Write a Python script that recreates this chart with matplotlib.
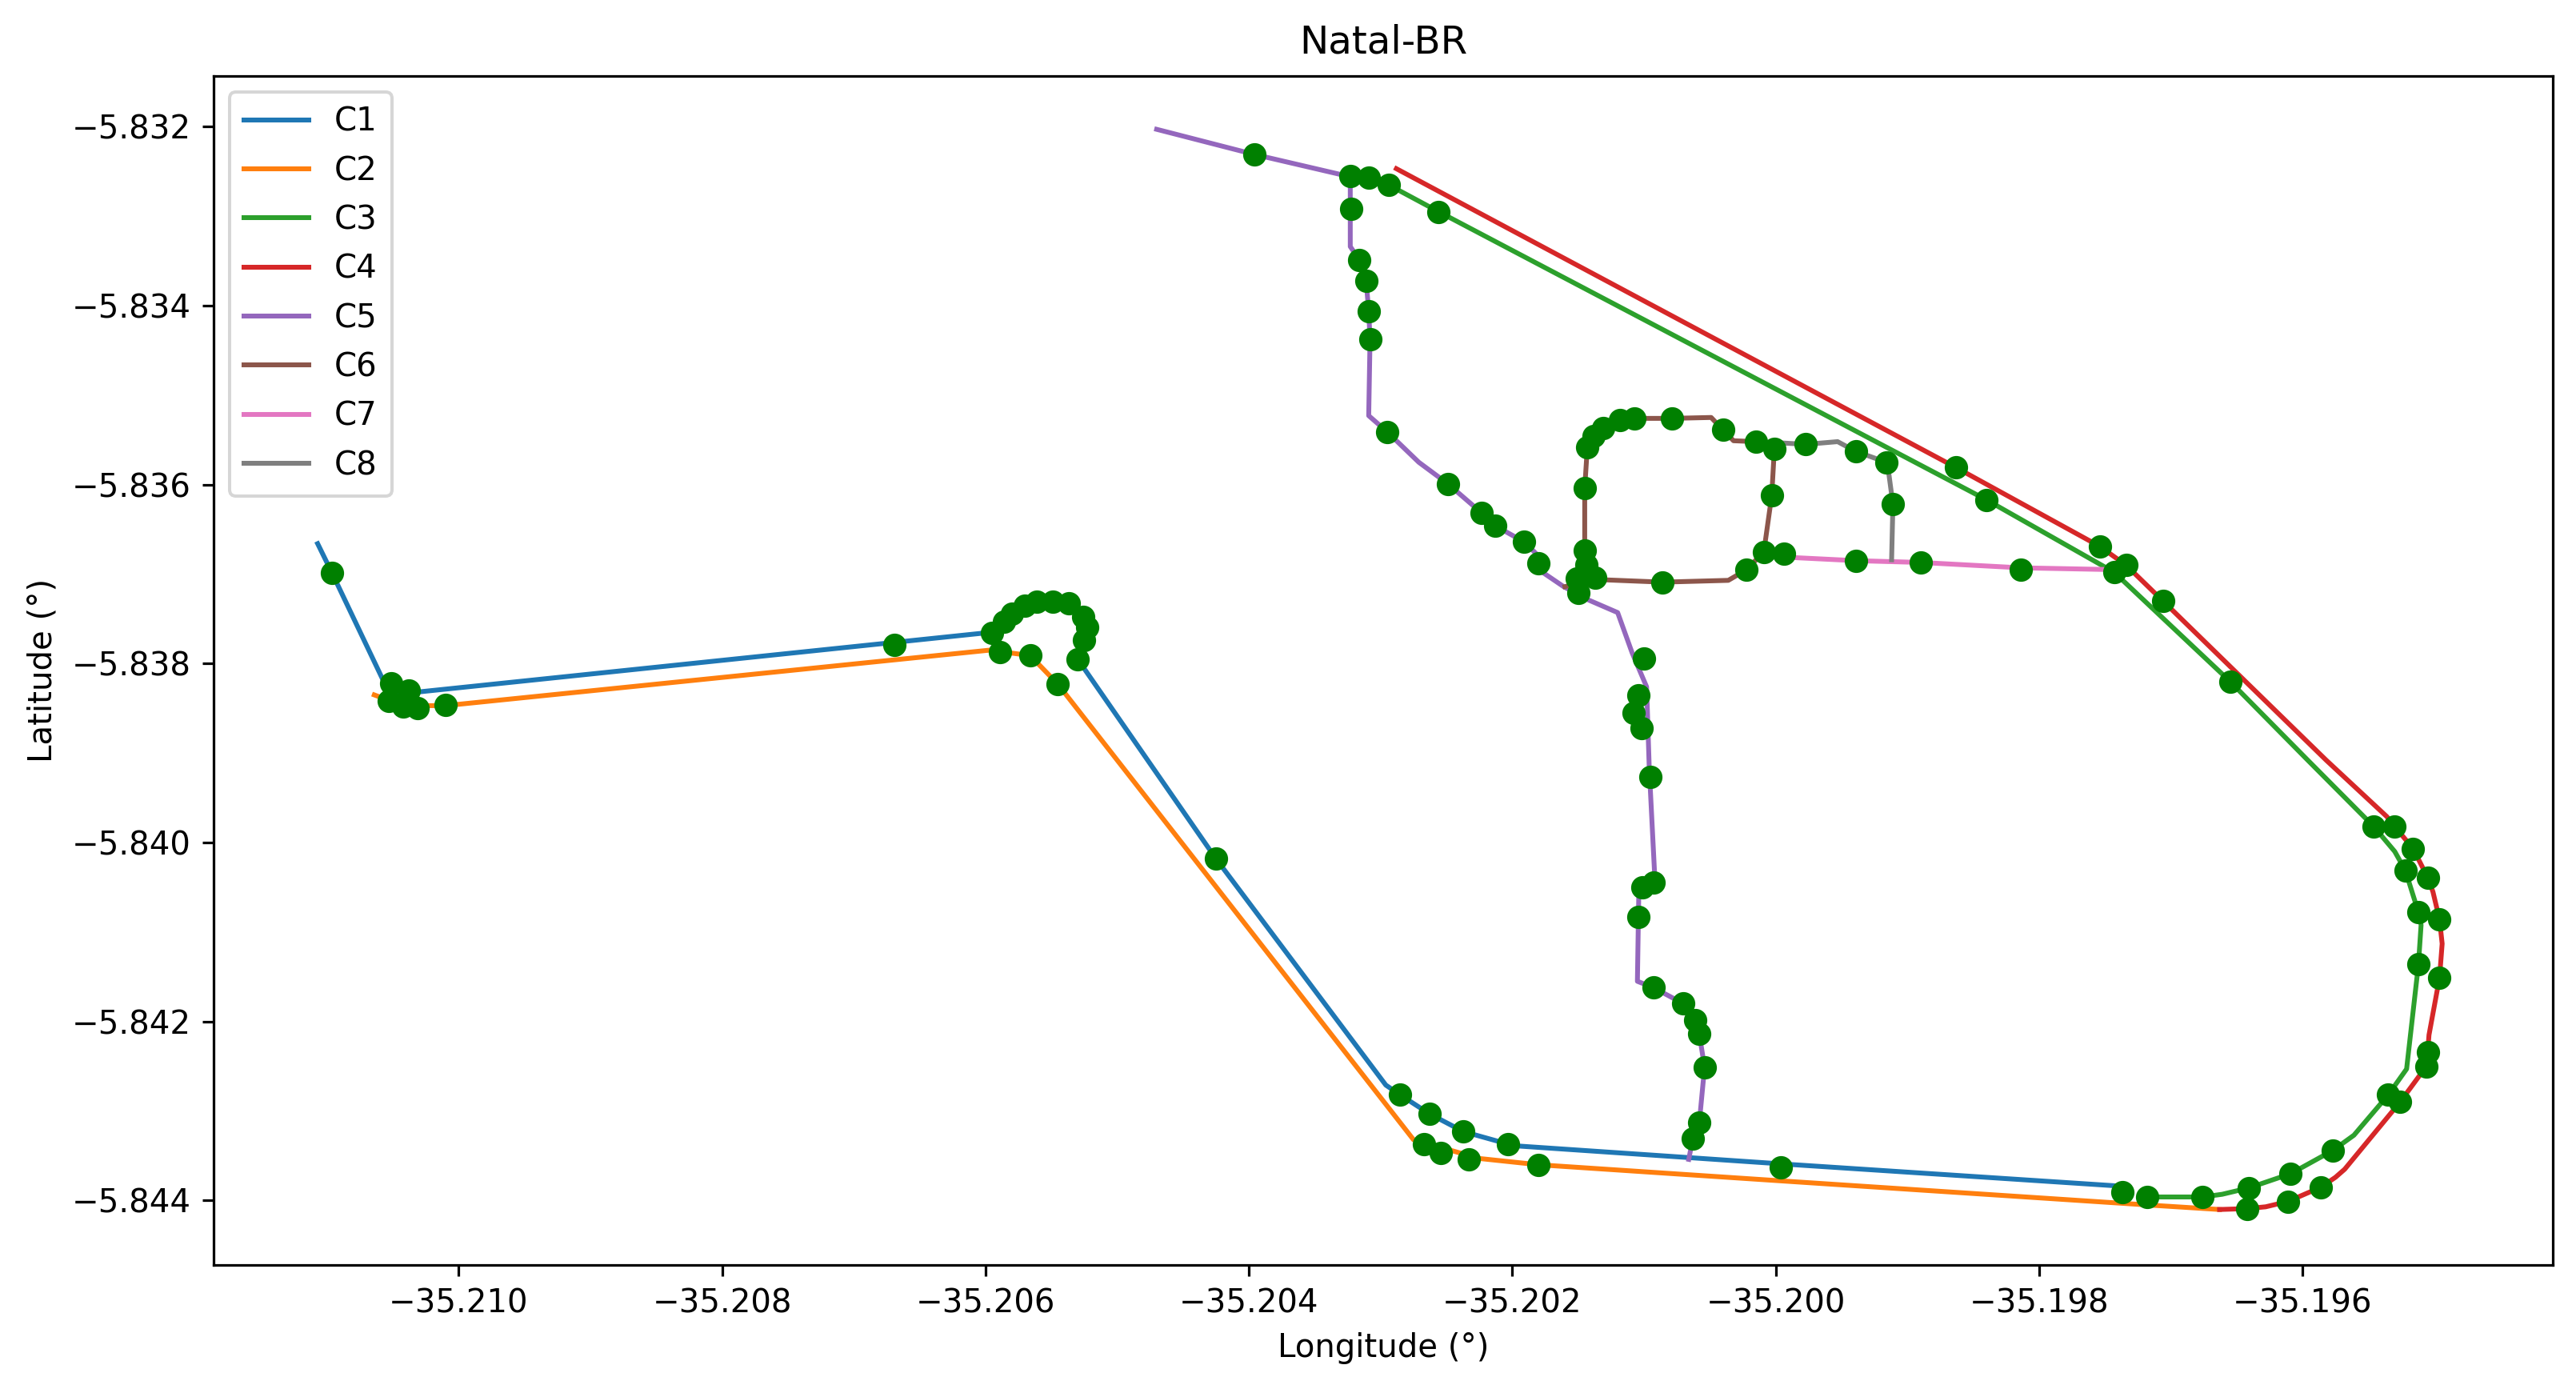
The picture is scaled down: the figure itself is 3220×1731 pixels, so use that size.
import matplotlib
matplotlib.use("Agg")
import matplotlib.pyplot as plt

# route coordinates (longitude, latitude)
c1_lon = [-35.21107, -35.21096, -35.21052, -35.20602, -35.20595, -35.20586, -35.20580, -35.20570, -35.20561, -35.20549,
          -35.20537, -35.20526, -35.20523, -35.20525, -35.20530, -35.20425, -35.20296, -35.20285, -35.20263, -35.20237,
          -35.20203, -35.20196, -35.19996, -35.19737]
c1_lat = [-5.83666, -5.83699, -5.83835, -5.83766, -5.83766, -5.83753, -5.83744, -5.83735, -5.83731, -5.83731,
          -5.83733, -5.83748, -5.83759, -5.83774, -5.83795, -5.84018, -5.84271, -5.84282, -5.84303, -5.84323,
          -5.84337, -5.84339, -5.84359, -5.84384]

c2_lon = [-35.21064, -35.21042, -35.21010, -35.20597, -35.20566, -35.20545, -35.20275, -35.20225, -35.20180, -35.19996,
          -35.19717, -35.19663]
c2_lat = [-5.83835, -5.83847, -5.83847, -5.83785, -5.83791, -5.83823, -5.84332, -5.84353, -5.84360, -5.84378,
          -5.84405, -5.84410]

c3_lon = [-35.20294, -35.20256, -35.19840, -35.19743, -35.19655, -35.19596, -35.19546, -35.19530, -35.19522, -35.19512,
          -35.19510, -35.19512, -35.19521, -35.19535, -35.19561, -35.19577, -35.19609, -35.19641, -35.19661, -35.19676,
          -35.19718]
c3_lat = [-5.83265, -5.83295, -5.83617, -5.83698, -5.83820, -5.83908, -5.83982, -5.84010, -5.84031, -5.84078,
          -5.84092, -5.84136, -5.84253, -5.84282, -5.84327, -5.84344, -5.84370, -5.84386, -5.84393, -5.84396,
          -5.84396]

c4_lon = [-35.20288, -35.19863, -35.19754, -35.19734, -35.19706, -35.19582, -35.19536, -35.19530, -35.19516, -35.19505,
          -35.19501, -35.19496, -35.19494, -35.19496, -35.19504, -35.19505, -35.19506, -35.19526, -35.19568, -35.19575,
          -35.19586, -35.19611, -35.19628, -35.19642, -35.19663]
c4_lat = [-5.83247, -5.83581, -5.83669, -5.83690, -5.83730, -5.83908, -5.83971, -5.83982, -5.84007, -5.84039,
          -5.84055, -5.84086, -5.84113, -5.84151, -5.84215, -5.84234, -5.84250, -5.84290, -5.84365, -5.84374,
          -5.84385, -5.84401, -5.84407, -5.84409, -5.84410]

c5_lon = [-35.20470, -35.20396, -35.20323, -35.20323, -35.20316, -35.20311, -35.20309, -35.20308, -35.20309, -35.20295,
          -35.20271, -35.20249, -35.20223, -35.20213, -35.20191, -35.20182, -35.20180, -35.20161, -35.20142, -35.20120,
          -35.20109, -35.20098, -35.20096, -35.20092, -35.20101, -35.20104, -35.20105, -35.20093, -35.20070, -35.20061,
          -35.20058, -35.20054, -35.20058, -35.20063, -35.20066]
c5_lat = [-5.83203, -5.83231, -5.83256, -5.83334, -5.83349, -5.83372, -5.83406, -5.83438, -5.83523, -5.83541,
          -5.83575, -5.83599, -5.83632, -5.83646, -5.83664, -5.83677, -5.83695, -5.83714, -5.83729, -5.83743,
          -5.83788, -5.83826, -5.83917, -5.84033, -5.84050, -5.84062, -5.84155, -5.84162, -5.84180, -5.84198,
          -5.84214, -5.84251, -5.84313, -5.84331, -5.84354]

c6_lon = [-35.20145, -35.20145, -35.20145, -35.20143, -35.20138, -35.20131, -35.20118, -35.20107, -35.20079, -35.20049,
          -35.20040, -35.20032, -35.20015, -35.20001, -35.20003, -35.20009, -35.20022, -35.20036, -35.20086, -35.20137,
          -35.20160]
c6_lat = [-5.83692, -5.83674, -5.83604, -5.83558, -5.83546, -5.83537, -5.83528, -5.83526, -5.83526, -5.83525,
          -5.83539, -5.83551, -5.83552, -5.83560, -5.83612, -5.83675, -5.83695, -5.83707, -5.83709, -5.83706,
          -5.83714]

c7_lon = [-35.19994, -35.19939, -35.19890, -35.19814, -35.19744]
c7_lat = [-5.83681, -5.83685, -5.83687, -5.83693, -5.83695]

c8_lon = [-35.20001, -35.19977, -35.19953, -35.19939, -35.19916, -35.19914, -35.19911, -35.19912]
c8_lat = [-5.83553, -5.83555, -5.83552, -5.83563, -5.83575, -5.83589, -5.83622, -5.83684]

# bus stops
stop_lon = [-35.21096, -35.21051, -35.21038, -35.21053, -35.21042, -35.21031, -35.21010, -35.20669,
            -35.20595, -35.20586, -35.20580, -35.20570, -35.20561, -35.20549, -35.20537, -35.20526, -35.20523, -35.20525, -35.20530,
            -35.20589, -35.20566, -35.20545, -35.20425,
            -35.20285, -35.20263, -35.20237, -35.20203, -35.20267, -35.20254, -35.20233, -35.20180, -35.19996, -35.19737,
            -35.19718, -35.19676, -35.19641, -35.19642, -35.19611, -35.19609, -35.19586, -35.19577, -35.19535, -35.19526,
            -35.19505, -35.19506, -35.19496, -35.19512, -35.19496, -35.19512, -35.19505, -35.19522, -35.19516, -35.19530,
            -35.19546, -35.19655, -35.19706, -35.19734, -35.19743, -35.19754, -35.19840, -35.19863,
            -35.19814, -35.19890, -35.19939, -35.19994, -35.20009, -35.20022, -35.20086, -35.20137, -35.20151, -35.20150,
            -35.20144, -35.20145, -35.20145, -35.20143, -35.20138, -35.20131, -35.20118, -35.20107, -35.20079, -35.20040,
            -35.20015, -35.20001, -35.20003, -35.19977, -35.19939, -35.19916, -35.19911,
            -35.20396, -35.20323, -35.20309, -35.20294, -35.20256, -35.20322, -35.20316, -35.20311, -35.20309, -35.20308,
            -35.20295, -35.20249, -35.20223, -35.20213, -35.20191, -35.20180, -35.20100, -35.20104, -35.20108, -35.20102,
            -35.20095, -35.20093, -35.20101, -35.20104, -35.20093, -35.20070, -35.20061, -35.20058, -35.20054, -35.20058,
            -35.20063]
stop_lat = [-5.83699, -5.83822, -5.83830, -5.83842, -5.83848, -5.83850, -5.83846, -5.83779,
            -5.83766, -5.83753, -5.83744, -5.83735, -5.83731, -5.83731, -5.83733, -5.83748, -5.83759, -5.83774, -5.83795,
            -5.83787, -5.83791, -5.83823, -5.84018,
            -5.84282, -5.84303, -5.84323, -5.84337, -5.84337, -5.84347, -5.84354, -5.84360, -5.84363, -5.84391,
            -5.84396, -5.84396, -5.84386, -5.84409, -5.84401, -5.84370, -5.84385, -5.84344, -5.84282, -5.84290,
            -5.84234, -5.84250, -5.84151, -5.84136, -5.84086, -5.84078, -5.84039, -5.84031, -5.84007, -5.83982,
            -5.83982, -5.83820, -5.83730, -5.83690, -5.83698, -5.83669, -5.83617, -5.83581,
            -5.83695, -5.83687, -5.83685, -5.83677, -5.83675, -5.83695, -5.83709, -5.83704, -5.83705, -5.83721,
            -5.83690, -5.83674, -5.83604, -5.83558, -5.83546, -5.83537, -5.83528, -5.83526, -5.83526, -5.83539,
            -5.83552, -5.83560, -5.83612, -5.83555, -5.83563, -5.83575, -5.83622,
            -5.83231, -5.83255, -5.83257, -5.83265, -5.83295, -5.83292, -5.83349, -5.83372, -5.83406, -5.83438,
            -5.83541, -5.83599, -5.83632, -5.83646, -5.83664, -5.83688, -5.83794, -5.83835, -5.83855, -5.83872,
            -5.83927, -5.84045, -5.84050, -5.84083, -5.84162, -5.84180, -5.84198, -5.84214, -5.84251, -5.84313,
            -5.84331]

routes = [("C1", c1_lon, c1_lat), ("C2", c2_lon, c2_lat), ("C3", c3_lon, c3_lat), ("C4", c4_lon, c4_lat),
          ("C5", c5_lon, c5_lat), ("C6", c6_lon, c6_lat), ("C7", c7_lon, c7_lat), ("C8", c8_lon, c8_lat)]

fig, ax = plt.subplots(figsize=(3220 / 290, 1731 / 290), dpi=290)

for name, lon, lat in routes:
    ax.plot(lon, lat, label=name)

# stops on top of the lines
ax.scatter(stop_lon, stop_lat, color="green", linewidths=1.25, zorder=5)

ax.set_xlim(-35.21186, -35.19410)
ax.set_ylim(-5.84472, -5.83143)
ax.ticklabel_format(useOffset=False)

ax.set_xlabel("Longitude (°)")
ax.set_ylabel("Latitude (°)")
ax.set_title("Natal-BR", pad=7)
ax.legend(loc="upper left", labelspacing=0.53, borderpad=0.45)

fig.subplots_adjust(left=267 / 3220, right=3191 / 3220, top=1 - 94.5 / 1731, bottom=1 - 1581 / 1731)

plt.savefig("out.png")
print("Saved out.png")
